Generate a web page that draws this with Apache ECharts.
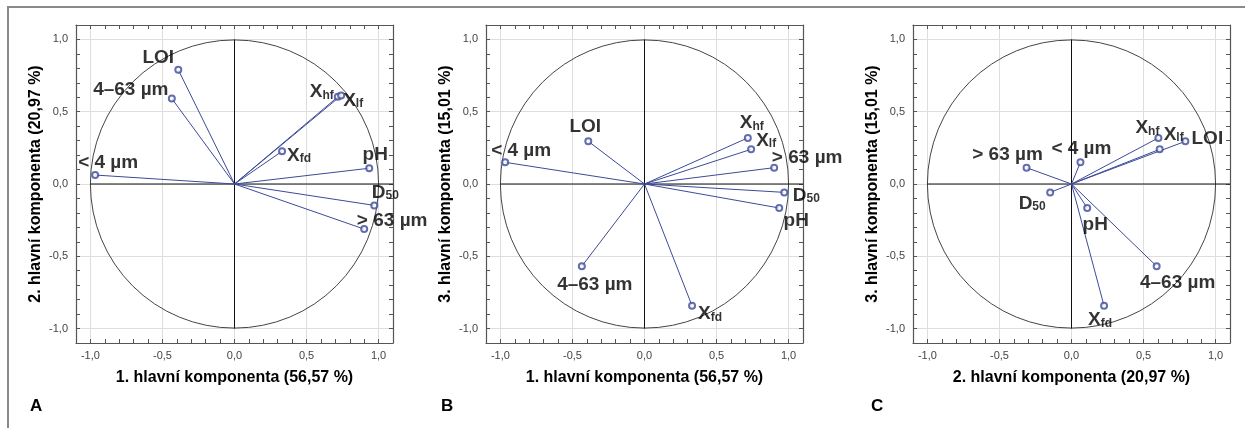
<!DOCTYPE html>
<html>
<head>
<meta charset="utf-8">
<script src="https://cdn.jsdelivr.net/npm/echarts@6/dist/echarts.min.js"></script>
<style>
  html, body { margin: 0; padding: 0; background: #fff; }
  #chart { width: 1245px; height: 428px; }
</style>
</head>
<body>
<div id="chart"></div>
<script>
// zátěže proměnných na hlavních komponentách
const variables = ['LOI', '4–63 µm', '< 4 µm', 'Xhf', 'Xlf', 'Xfd', 'pH', 'D50', '> 63 µm']
const pc1 = [-0.39, -0.435, -0.967, 0.717, 0.74, 0.33, 0.935, 0.97, 0.9]
const pc2 = [0.79, 0.591, 0.062, 0.603, 0.612, 0.226, 0.109, -0.148, -0.312]
const pc3 = [0.295, -0.569, 0.15, 0.319, 0.24, -0.843, -0.166, -0.058, 0.113]
const componentNames = ['1. hlavní komponenta (56,57 %)', '2. hlavní komponenta (20,97 %)', '3. hlavní komponenta (15,01 %)']
const tickValues = [-1, -0.5, 0, 0.5, 1]
const axisMin = -1.1
const axisMax = 1.1
const panelLetters = ['A', 'B', 'C']

const NARROW = '"Liberation Sans Narrow", "Arial Narrow", "Liberation Sans", sans-serif'
const SANS = '"Liberation Sans", Arial, sans-serif'
const VEC = '#3c4a97'

// rozložení panelů a posuny popisků (střed popisku vůči bodu, px)
const panels = [
  {
    xs: pc1, ys: pc2, xName: 0, yName: 1, left: 76, letterX: 37,
    offsets: [[-20, -13], [-41, -10], [13, -13], [-16, -6], [12, 4], [17, 3], [6, -14], [11, -14], [28, -9]]
  },
  {
    xs: pc1, ys: pc3, xName: 0, yName: 2, left: 486, letterX: 448,
    offsets: [[-3, -16], [13, 18], [16, -13], [4, -16], [15, -10], [18, 7], [17, 12], [22, 2], [33, -11]]
  },
  {
    xs: pc2, ys: pc3, xName: 1, yName: 2, left: 913, letterX: 878,
    offsets: [[22, -4], [21, 16], [1, -15], [-11, -11], [14, -16], [-4, 13], [8, 16], [-18, 10], [-19, -14]]
  }
]

function richName(name) {
  const m = { Xhf: ['X', 'hf'], Xlf: ['X', 'lf'], Xfd: ['X', 'fd'], D50: ['D', '50'] }[name]
  if (m) return '{b|' + m[0] + '}{s|' + m[1] + '}'
  return '{b|' + name + '}'
}

function tickFormatter(v) {
  const isMajor = Math.abs(v * 2 - Math.round(v * 2)) < 1e-6 && Math.abs(v) < 1.05
  return isMajor ? v.toFixed(1).replace('.', ',') : ''
}

const grids = []
const xAxes = []
const yAxes = []
const series = []
const graphics = []

panels.forEach((p, i) => {
  grids.push({ left: p.left, top: 25, width: 317, height: 318 })

  const base = {
    gridIndex: i, type: 'value', min: axisMin, max: axisMax, interval: 0.1,
    axisLine: { show: true, onZero: false, lineStyle: { color: '#555', width: 1.2 } },
    axisTick: { show: true, inside: true, length: 4, lineStyle: { color: '#555' } },
    splitLine: { show: false }
  }
  xAxes.push(Object.assign({}, base, {
    position: 'bottom',
    name: componentNames[p.xName], nameLocation: 'middle', nameGap: 27,
    nameTextStyle: { fontFamily: NARROW, fontWeight: 'bold', fontSize: 16, color: '#000' },
    axisLabel: { formatter: tickFormatter, margin: 7, fontFamily: SANS, fontSize: 11, color: '#444' }
  }))
  xAxes.push(Object.assign({}, base, { position: 'top', axisLabel: { show: false } }))
  yAxes.push(Object.assign({}, base, {
    position: 'left',
    name: componentNames[p.yName], nameLocation: 'middle', nameGap: 32, nameRotate: 90,
    nameTextStyle: { fontFamily: NARROW, fontWeight: 'bold', fontSize: 16, color: '#000' },
    axisLabel: { formatter: tickFormatter, margin: 8, fontFamily: SANS, fontSize: 11, color: '#444' }
  }))
  yAxes.push(Object.assign({}, base, { position: 'right', axisLabel: { show: false } }))

  const xi = i * 2
  const yi = i * 2
  const points = p.xs.map((x, k) => [x, p.ys[k]])

  // mřížka
  series.push({
    type: 'line', xAxisIndex: xi, yAxisIndex: yi, data: [], z: 0, silent: true,
    markLine: {
      z: 0, silent: true, symbol: ['none', 'none'], label: { show: false },
      lineStyle: { color: '#dedede', type: 'solid', width: 1 },
      data: tickValues.map(v => ({ xAxis: v })).concat(tickValues.map(v => ({ yAxis: v })))
    }
  })

  // jednotková kružnice
  series.push({
    type: 'custom', xAxisIndex: xi, yAxisIndex: yi, data: [[0, 0]], z: 1, silent: true,
    renderItem: (params, api) => {
      const c = api.coord([0, 0])
      const r = api.size([1, 0])[0]
      return { type: 'circle', shape: { cx: c[0], cy: c[1], r: r }, style: { fill: 'none', stroke: '#444', lineWidth: 1 } }
    }
  })

  // osy v nule
  series.push({
    type: 'custom', xAxisIndex: xi, yAxisIndex: yi, z: 2, silent: true,
    data: [[-1, 0, axisMax, 0], [0, -1, 0, 1]],
    renderItem: (params, api) => {
      const a = api.coord([api.value(0), api.value(1)])
      const b = api.coord([api.value(2), api.value(3)])
      return { type: 'line', shape: { x1: a[0], y1: a[1], x2: b[0], y2: b[1] }, style: { stroke: '#111', lineWidth: 1 } }
    }
  })

  // vektory
  series.push({
    type: 'custom', xAxisIndex: xi, yAxisIndex: yi, z: 3, silent: true,
    data: points,
    renderItem: (params, api) => {
      const o = api.coord([0, 0])
      const e = api.coord([api.value(0), api.value(1)])
      return { type: 'line', shape: { x1: o[0], y1: o[1], x2: e[0], y2: e[1] }, style: { stroke: VEC, lineWidth: 1 } }
    }
  })

  // body s popisky
  series.push({
    type: 'scatter', xAxisIndex: xi, yAxisIndex: yi, z: 4, silent: true,
    symbol: 'emptyCircle', symbolSize: 6,
    itemStyle: { color: VEC, borderColor: VEC, borderWidth: 1 },
    data: points.map((pt, k) => ({
      value: pt,
      label: { offset: p.offsets[k], formatter: richName(variables[k]) }
    })),
    label: {
      show: true, position: 'inside',
      rich: {
        b: { fontFamily: NARROW, fontWeight: 'bold', fontSize: 19, color: '#000', verticalAlign: 'bottom', lineHeight: 21 },
        s: { fontFamily: NARROW, fontWeight: 'bold', fontSize: 12, color: '#000', verticalAlign: 'bottom', lineHeight: 17 }
      }
    }
  })

  graphics.push({
    type: 'text', left: p.letterX - 7, top: 398,
    style: { text: panelLetters[i], font: 'bold 17px ' + SANS, fill: '#000' }
  })
})

graphics.push({
  type: 'polyline', silent: true,
  shape: { points: [[1245, 7], [8, 7], [8, 428]] },
  style: { stroke: '#8a8a8a', lineWidth: 2, fill: 'none' }
})

const chart = echarts.init(document.getElementById('chart'))
chart.setOption({
  animation: false,
  grid: grids,
  xAxis: xAxes,
  yAxis: yAxes,
  series: series,
  graphic: graphics
})
</script>
</body>
</html>
